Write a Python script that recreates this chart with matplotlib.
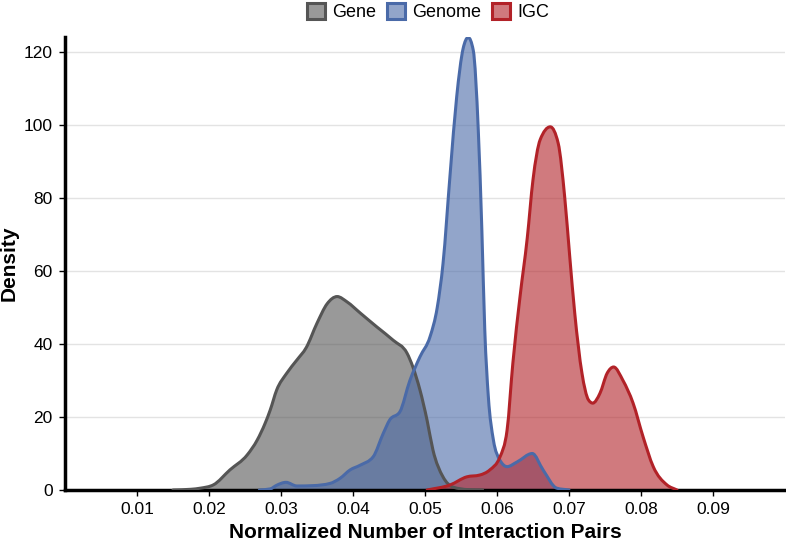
import matplotlib
matplotlib.use("Agg")
import numpy as np
import matplotlib.pyplot as plt
from matplotlib.patches import Patch, PathPatch
from matplotlib.path import Path

plt.rcParams['font.family'] = ['Liberation Sans', 'DejaVu Sans']

# Gene density curve (x, density)
gene_x = [0.0150, 0.0175, 0.0188, 0.0206, 0.0229, 0.0253, 0.0267, 0.0278, 0.0285, 0.0294,
          0.0308, 0.0322, 0.0335, 0.0350, 0.0364, 0.0378, 0.0392, 0.0410, 0.0433, 0.0456,
          0.0475, 0.0483, 0.0493, 0.0503, 0.0511, 0.0525, 0.0539, 0.0560, 0.0580]
gene_y = [0.0, 0.2, 0.5, 1.4, 5.5, 9.6, 13.7, 18.3, 21.9, 27.4,
          32.0, 35.6, 39.0, 45.7, 51.0, 53.0, 51.5, 48.5, 44.7, 41.0,
          37.5, 33.8, 27.4, 19.0, 11.0, 3.6, 0.8, 0.1, 0.0]

# Genome density curve
genome_x = [0.0270, 0.0285, 0.0294, 0.0307, 0.0322, 0.0345, 0.0368, 0.0382, 0.0396, 0.0410,
            0.0428, 0.0442, 0.0451, 0.0465, 0.0479, 0.0493, 0.0507, 0.0517, 0.0525, 0.0535,
            0.0544, 0.0553, 0.0560, 0.0567, 0.0574, 0.0579, 0.0583, 0.0588, 0.0595, 0.0604,
            0.0614, 0.0628, 0.0649, 0.0664, 0.0683, 0.0700]
genome_y = [0.0, 0.3, 1.3, 2.1, 1.1, 1.2, 1.8, 3.2, 5.5, 6.8,
            9.1, 15.5, 19.2, 21.4, 30.0, 36.5, 42.0, 50.0, 62.0, 86.8,
            107.7, 121.0, 124.0, 120.5, 98.6, 71.0, 44.0, 25.5, 13.7, 8.2,
            6.4, 7.7, 10.0, 5.5, 0.5, 0.0]

# IGC density curve
igc_x = [0.0503, 0.0535, 0.0558, 0.0576, 0.0590, 0.0604, 0.0614, 0.0622, 0.0632, 0.0642,
         0.0650, 0.0660, 0.0674, 0.0685, 0.0694, 0.0701, 0.0708, 0.0718, 0.0727, 0.0733,
         0.0743, 0.0753, 0.0762, 0.0775, 0.0789, 0.0803, 0.0817, 0.0836, 0.0850]
igc_y = [0.0, 1.4, 3.6, 4.1, 5.5, 9.0, 16.4, 34.7, 53.0, 69.0,
         85.0, 96.0, 99.5, 95.0, 80.3, 64.0, 48.4, 32.0, 24.7, 23.8,
         26.5, 32.0, 33.7, 30.0, 23.8, 14.5, 6.4, 1.4, 0.0]

series_names = ["Gene", "Genome", "IGC"]
series_colors = ["#555555", "#4a6aa8", "#b22228"]

x_ticks = [0.01, 0.02, 0.03, 0.04, 0.05, 0.06, 0.07, 0.08, 0.09]
y_ticks = [0, 20, 40, 60, 80, 100, 120]


def monotone_path(xs, ys, close=False):
    """Smooth monotone-x cubic Bezier path through the given points."""
    x = np.asarray(xs, float)
    y = np.asarray(ys, float)
    n = len(x)
    h = np.diff(x)
    d = np.diff(y) / h
    m = np.zeros(n)
    m[0], m[-1] = d[0], d[-1]
    for k in range(1, n - 1):
        s0, s1 = d[k - 1], d[k]
        h0, h1 = h[k - 1], h[k]
        p = (s0 * h1 + s1 * h0) / (h0 + h1)
        m[k] = (np.sign(s0) + np.sign(s1)) * min(abs(s0), abs(s1), 0.5 * abs(p))
    verts = [(x[0], y[0])]
    codes = [Path.MOVETO]
    for k in range(n - 1):
        dx = h[k] / 3
        verts += [(x[k] + dx, y[k] + m[k] * dx),
                  (x[k + 1] - dx, y[k + 1] - m[k + 1] * dx),
                  (x[k + 1], y[k + 1])]
        codes += [Path.CURVE4] * 3
    if close:
        verts += [(x[-1], 0), (x[0], 0), (x[0], y[0])]
        codes += [Path.LINETO, Path.LINETO, Path.CLOSEPOLY]
    return Path(verts, codes)


fig = plt.figure(figsize=(7.86, 5.43), dpi=100)
ax = fig.add_axes([65/786, 53/543, 720/786, (490-37.4)/543])

data = [(gene_x, gene_y), (genome_x, genome_y), (igc_x, igc_y)]
for (xs, ys), name, c in zip(data, series_names, series_colors):
    ax.add_patch(PathPatch(monotone_path(xs, ys, close=True), facecolor=c, alpha=0.6,
                           edgecolor='none', zorder=2))
    ax.add_patch(PathPatch(monotone_path(xs, ys), facecolor='none', edgecolor=c,
                           linewidth=2.2, joinstyle='round', capstyle='round', zorder=3))

ax.set_xlim(0, 0.1)
ax.set_ylim(0, 124)
ax.set_xticks(x_ticks)
ax.set_xticklabels([f"{v:.2f}" for v in x_ticks])
ax.set_yticks(y_ticks)
ax.grid(axis='y', color='#e3e3e3', linewidth=1, zorder=0)
ax.set_axisbelow(True)
for s in ['top', 'right']:
    ax.spines[s].set_visible(False)
for s in ['left', 'bottom']:
    ax.spines[s].set_linewidth(2.5)
    ax.spines[s].set_color('black')
ax.tick_params(axis='both', labelsize=12.5, length=4, width=1, colors='black', pad=5)

ax.set_xlabel("Normalized Number of Interaction Pairs", fontsize=15, fontweight='bold')
ax.set_ylabel("Density", fontsize=15, fontweight='bold')
ax.xaxis.set_label_coords(0.5, (490 - 523) / 452.6)
ax.yaxis.set_label_coords((19 - 65) / 720, 0.5)

handles = [Patch(facecolor=matplotlib.colors.to_rgba(c, 0.6), edgecolor=c, linewidth=2.2)
           for c in series_colors]
fig.legend(handles, series_names, loc='center', bbox_to_anchor=(428/786, 1 - 12/543),
           ncol=3, frameon=False, fontsize=13, handlelength=1.0, handleheight=1.0,
           handletextpad=0.4, columnspacing=0.6, borderaxespad=0)

fig.savefig("out.png", dpi=100)
